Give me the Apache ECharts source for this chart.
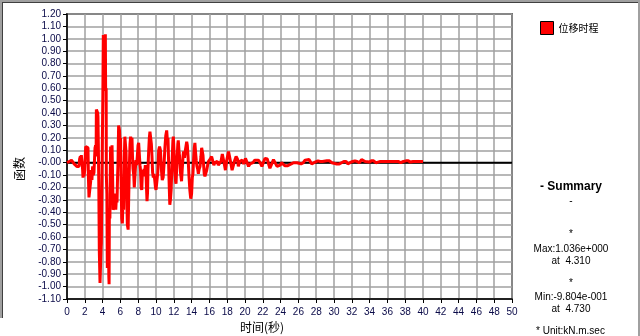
<!DOCTYPE html>
<html>
<head>
<meta charset="utf-8">
<script src="https://cdn.jsdelivr.net/npm/echarts@6/dist/echarts.min.js"></script>
<style>
html,body{margin:0;padding:0;background:#fff;}
#c{width:640px;height:336px;}
</style>
</head>
<body>
<div id="c"></div>
<script>
// ---- data ----
const seriesName = '位移时程';
const times = [
0.00,0.10,0.25,0.40,0.50,0.60,0.70,0.80,0.95,1.10,1.25,1.35,1.42,1.50,1.55,1.61,1.70,1.75,1.80,1.86,1.91,1.99,
2.05,2.10,2.25,2.36,2.40,2.47,2.60,2.66,2.72,2.80,2.88,2.95,3.03,3.10,3.15,3.22,3.27,3.30,3.38,3.45,3.48,3.52,
3.57,3.63,3.68,3.71,3.78,3.83,3.86,3.92,3.97,4.03,4.08,4.15,4.22,4.27,4.31,4.34,4.40,4.42,4.48,4.53,4.60,4.66,
4.70,4.73,4.76,4.82,4.86,4.90,4.95,5.00,
5.06,5.12,5.18,5.25,5.30,5.36,5.42,5.48,5.55,5.62,5.68,5.73,5.80,5.85,5.90,5.96,6.02,6.07,6.15,6.22,6.29,6.37,
6.44,6.50,6.56,6.63,6.70,6.78,6.87,6.93,7.00,7.08,7.15,7.22,7.30,7.36,7.42,7.50,7.56,7.62,7.68,7.75,7.82,7.90,
7.98,8.05,8.13,8.20,8.26,8.33,8.40,8.46,8.52,8.58,8.65,8.72,8.80,8.86,8.93,8.99,9.05,9.10,9.18,9.25,9.32,9.40,
9.48,9.55,9.62,9.70,9.78,9.86,9.94,10.00,
10.10,10.20,10.30,10.40,10.50,10.60,10.70,10.80,10.90,11.00,11.10,11.20,11.30,11.35,11.45,11.55,11.62,11.70,
11.80,11.90,11.95,12.05,12.10,12.20,12.25,12.35,12.45,12.50,12.60,12.65,12.75,12.87,12.95,13.05,13.10,13.20,
13.30,13.45,13.52,13.60,13.70,13.80,13.90,14.00,14.08,14.15,14.22,14.30,14.37,14.45,14.52,14.60,14.68,14.76,
14.85,14.95,15.05,15.13,15.20,15.28,15.35,15.42,15.50,15.58,15.70,15.80,15.90,16.00,16.10,16.25,16.40,16.50,
16.60,16.75,16.90,17.00,17.15,17.30,17.45,17.55,17.70,17.80,17.95,18.15,18.25,18.40,18.55,18.70,18.85,19.00,
19.15,19.25,19.40,19.55,19.70,19.85,20.05,20.20,20.40,20.55,20.75,20.90,21.10,21.30,21.50,21.70,21.90,22.05,
22.25,22.50,22.65,22.80,22.95,23.20,23.40,23.60,23.80,23.95,24.10,24.30,24.50,24.75,24.95,25.20,25.45,25.65,
25.85,26.05,26.30,26.55,26.75,26.95,27.20,27.35,27.50,27.75,27.95,28.20,28.45,28.70,28.90,29.20,29.50,29.75,
30.00,30.30,30.60,30.85,31.10,31.35,31.55,31.80,32.10,32.35,32.60,32.85,33.10,33.30,33.50,33.70,33.95,34.20,
34.45,34.70,34.95,35.20,35.60,36.00,36.40,36.80,37.20,37.50,37.80,38.10,38.35,38.60,38.90,39.20,39.50,39.80,40.00
];
const values = [
0.00,0.01,0.01,0.015,0.02,0.02,0.01,-0.01,-0.01,-0.03,-0.02,-0.03,0.03,0.05,0.02,0.06,0.07,-0.05,-0.12,-0.06,-0.11,-0.06,
0.05,0.13,0.13,0.12,-0.10,-0.28,-0.28,-0.15,-0.06,-0.14,-0.03,-0.10,-0.08,0.04,0.12,0.14,0.05,0.43,0.44,0.40,0.37,0.15,
-0.15,-0.71,-0.72,-0.97,-0.97,-0.68,-0.65,-0.20,0.17,0.55,1.03,1.02,0.90,1.00,1.036,0.58,0.60,-0.10,-0.25,-0.85,-0.86,-0.55,
-0.92,-0.9804,-0.38,-0.45,-0.10,0.13,0.14,-0.05,
0.14,-0.10,-0.38,-0.36,-0.25,-0.33,-0.30,-0.38,-0.28,-0.32,-0.12,0.00,0.30,0.31,0.26,0.16,0.20,-0.10,-0.45,-0.49,-0.30,-0.38,
0.05,0.21,0.20,0.09,-0.20,-0.50,-0.54,-0.29,-0.05,0.15,0.21,0.18,0.20,0.05,-0.05,-0.10,-0.20,-0.21,-0.05,0.02,-0.02,0.05,
0.14,0.16,0.15,-0.02,-0.06,-0.20,-0.22,-0.10,-0.06,-0.11,-0.05,-0.09,-0.02,-0.04,-0.20,-0.31,-0.24,-0.05,0.10,0.20,0.25,0.24,
0.15,0.05,-0.08,-0.12,-0.09,-0.14,-0.20,-0.22,
-0.23,-0.08,0.10,0.13,0.10,-0.05,-0.14,-0.12,-0.02,0.12,0.22,0.26,0.16,0.20,-0.10,-0.34,-0.30,-0.22,
0.00,0.18,0.21,0.05,-0.06,-0.15,-0.17,0.00,0.15,0.18,0.08,0.05,-0.08,-0.15,-0.05,0.06,0.09,0.04,
0.10,0.17,0.14,0.05,-0.10,-0.22,-0.29,-0.25,-0.12,-0.09,0.02,0.12,0.16,0.08,0.02,-0.03,-0.05,-0.09,
-0.05,-0.03,0.05,0.12,0.13,0.06,-0.02,-0.09,-0.11,-0.09,-0.06,-0.02,0.01,0.01,0.03,0.05,0.05,-0.02,
0.00,0.01,0.01,-0.02,-0.03,0.01,0.07,0.07,-0.02,-0.06,0.02,0.09,0.08,0.00,-0.06,-0.05,0.02,0.05,
0.03,-0.03,0.01,0.00,0.02,-0.01,0.035,0.03,-0.03,-0.01,-0.005,0.00,0.02,0.02,0.02,0.00,-0.03,0.00,
0.035,0.03,-0.01,-0.045,-0.03,0.025,0.02,-0.03,-0.03,-0.02,0.00,-0.01,-0.025,-0.025,-0.01,-0.01,0.00,0.01,
0.00,-0.01,-0.01,0.00,0.02,0.025,0.025,0.01,-0.01,0.00,0.01,0.015,0.01,0.01,0.015,0.015,0.015,0.00,
-0.005,-0.01,-0.01,0.00,0.01,0.01,-0.01,0.00,0.01,0.015,0.01,0.00,0.025,0.025,0.01,-0.005,0.005,0.015,
0.015,0.00,0.005,0.01,0.01,0.01,0.01,0.01,0.01,0.00,0.01,0.015,0.015,0.005,0.01,0.01,0.01,0.01,0.01
];
const xTicks = {min: 0, max: 50, interval: 2};
const yTicks = {min: -1.1, max: 1.2, interval: 0.1};
const summaryLines = ['- Summary', '-', '*', 'Max:1.036e+000', 'at  4.310', '*', 'Min:-9.804e-001', 'at  4.730'];
const unitText = '* Unit:kN.m.sec';
const xName = '时间(秒)';
const yName = '函数';

// ---- chart ----
const pts = times.map((t, i) => [t, values[i]]);
const zeroLine = [[xTicks.min, 0], [xTicks.max, 0]];
const labelColor = '#0a0a48';
const font = 'Liberation Sans, Arial, sans-serif';
const cjk = 'Noto Sans CJK SC, sans-serif';

const sumY = [187, 201, 234, 249, 261, 283, 297, 309];
const graphics = [];
summaryLines.forEach((s, i) => {
  graphics.push({
    type: 'text', x: 571, y: sumY[i],
    style: {
      text: s, x: 0, y: 0, align: 'center', verticalAlign: 'middle',
      font: (i === 0 ? 'bold 12px ' : '10px ') + font, fill: '#000'
    }
  });
});
graphics.push({type:'text', x: 536, y: 331, style:{text: unitText, align:'left', verticalAlign:'middle', font:'10px ' + font, fill:'#000'}});
graphics.push({type:'text', x: 262, y: 327, style:{text: xName, align:'center', verticalAlign:'middle', font:'12px ' + cjk, fill:'#000'}});
graphics.push({type:'text', x: 19, y: 169, rotation: Math.PI/2, style:{text: yName, align:'center', verticalAlign:'middle', font:'12px ' + cjk, fill:'#000'}});
// window frame
graphics.push({type:'line', shape:{x1:0,y1:1,x2:640,y2:1}, style:{stroke:'#a0a0a0', lineWidth:2}, silent:true});
graphics.push({type:'line', shape:{x1:1,y1:0,x2:1,y2:318}, style:{stroke:'#a0a0a0', lineWidth:2}, silent:true});
graphics.push({type:'line', shape:{x1:639,y1:0,x2:639,y2:336}, style:{stroke:'#a0a0a0', lineWidth:2}, silent:true});
graphics.push({type:'line', shape:{x1:2,y1:2.5,x2:638,y2:2.5}, style:{stroke:'#404040', lineWidth:1}, silent:true});
graphics.push({type:'line', shape:{x1:2.5,y1:2,x2:2.5,y2:318}, style:{stroke:'#404040', lineWidth:1}, silent:true});

const chart = echarts.init(document.getElementById('c'), null, {renderer: 'canvas'});
chart.setOption({
  animation: false,
  backgroundColor: '#fff',
  grid: {left: 67, right: 128, top: 14, bottom: 37, show: true, borderColor: '#000', borderWidth: 1.5, backgroundColor: 'transparent'},
  legend: {
    data: [seriesName], left: 540, top: 21, padding: 0, itemWidth: 13, itemHeight: 13, itemGap: 5,
    icon: 'rect',
    itemStyle: {borderColor: '#000', borderWidth: 1},
    textStyle: {fontSize: 10, fontFamily: cjk, color: '#000'}
  },
  xAxis: {
    type: 'value', min: xTicks.min, max: xTicks.max, interval: xTicks.interval,
    axisLine: {onZero: false, lineStyle: {color: '#000', width: 1.5}},
    axisTick: {show: true, length: 4, lineStyle: {color: '#000'}},
    axisLabel: {color: labelColor, fontSize: 10, fontFamily: font, margin: 8},
    splitLine: {show: true, lineStyle: {color: '#a0a0a0', width: 1.5}}
  },
  yAxis: {
    type: 'value', min: yTicks.min, max: yTicks.max, interval: yTicks.interval,
    axisLine: {show: true, lineStyle: {color: '#000', width: 1.5}},
    axisTick: {show: true, length: 4, lineStyle: {color: '#000'}},
    axisLabel: {
      color: labelColor, fontSize: 10, fontFamily: font, margin: 6,
      formatter: v => Math.abs(v) < 1e-9 ? '-0.00' : v.toFixed(2)
    },
    splitLine: {show: true, lineStyle: {color: '#a0a0a0', width: 1.5}}
  },
  series: [
    {name: 'zero', type: 'line', data: zeroLine, showSymbol: false, silent: true,
     lineStyle: {color: '#000', width: 2}, z: 1},
    {name: seriesName, type: 'line', data: pts, showSymbol: false, symbol: 'none',
     lineStyle: {color: '#ff0000', width: 3}, itemStyle: {color: '#ff0000'}, z: 2}
  ],
  graphic: graphics
});
</script>
</body>
</html>
